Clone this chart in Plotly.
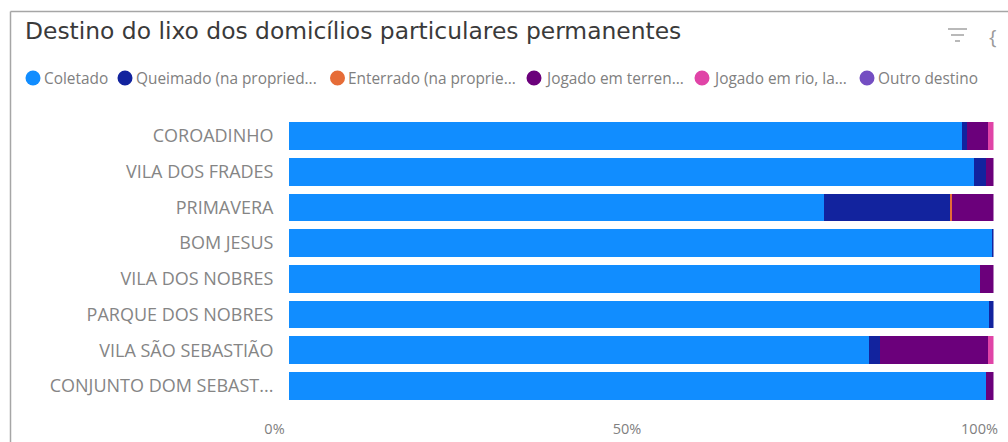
import plotly.graph_objects as go

W, H = 1008, 442
categories = ["COROADINHO", "VILA DOS FRADES", "PRIMAVERA", "BOM JESUS", "VILA DOS NOBRES",
              "PARQUE DOS NOBRES", "VILA SÃO SEBASTIÃO", "CONJUNTO DOM SEBAST..."]
coletado =  [95.5, 97.3, 76.0, 99.75, 98.1, 99.3, 82.3, 99.0]
queimado =  [0.8, 1.7, 17.8, 0.25, 0.0, 0.7, 1.6, 0.0]
enterrado = [0.0, 0.0, 0.35, 0.0, 0.0, 0.0, 0.0, 0.0]
terreno =   [2.9, 1.0, 5.85, 0.0, 1.9, 0.0, 15.3, 1.0]
rio =       [0.8, 0.0, 0.0, 0.0, 0.0, 0.0, 0.8, 0.0]
outro =     [0.0, 0.0, 0.0, 0.0, 0.0, 0.0, 0.0, 0.0]
series_names = ["Coletado", "Queimado (na propriedade)", "Enterrado (na propriedade)",
                "Jogado em terreno baldio", "Jogado em rio, lago ou mar", "Outro destino"]
legend_labels = ["Coletado", "Queimado (na propried...", "Enterrado (na proprie...",
                 "Jogado em terren...", "Jogado em rio, la...", "Outro destino"]
series_values = [coletado, queimado, enterrado, terreno, rio, outro]
colors = ["#118DFF", "#12239E", "#E66C37", "#6B007B", "#E044A7", "#744EC2"]
legend_dot_x = [33, 125, 337.5, 534, 702, 867]
tick_values = [0, 50, 100]
tick_labels = ["0%", "50%", "100%"]

px = lambda x: x / W
py = lambda y: 1 - y / H

fig = go.Figure()
for name, vals, col in zip(series_names, series_values, colors):
    fig.add_trace(go.Bar(y=categories, x=vals, name=name, orientation="h",
                         marker=dict(color=col, line_width=0), showlegend=False))

shapes = [
    dict(type="line", xref="paper", yref="paper", x0=px(10.5), x1=px(W), y0=py(11.5), y1=py(11.5),
         line=dict(color="#A6A6A6", width=1.5)),
    dict(type="line", xref="paper", yref="paper", x0=px(10.5), x1=px(10.5), y0=py(11.5), y1=0,
         line=dict(color="#A6A6A6", width=1.5)),
    dict(type="line", xref="paper", yref="paper", x0=px(948), x1=px(967), y0=py(29), y1=py(29),
         line=dict(color="#8A8A8A", width=1.2)),
    dict(type="line", xref="paper", yref="paper", x0=px(951), x1=px(964), y0=py(35), y1=py(35),
         line=dict(color="#8A8A8A", width=1.2)),
    dict(type="line", xref="paper", yref="paper", x0=px(955), x1=px(960), y0=py(41), y1=py(41),
         line=dict(color="#8A8A8A", width=1.2)),
]
R = 7.5
for cx, col in zip(legend_dot_x, colors):
    shapes.append(dict(type="circle", xref="paper", yref="paper",
                       x0=px(cx - R), x1=px(cx + R), y0=py(78 + R), y1=py(78 - R),
                       fillcolor=col, line_width=0))

annotations = [
    dict(text="Destino do lixo dos domicílios particulares permanentes", xref="paper", yref="paper",
         x=px(23), y=py(31), xanchor="left", yanchor="middle", showarrow=False,
         font=dict(family="DejaVu Sans", size=23.4, color="#3A3A3A")),
    dict(text="{", xref="paper", yref="paper", x=px(993), y=py(36), xanchor="center", yanchor="middle",
         showarrow=False, font=dict(family="Open Sans", size=20, color="#9A9A9A")),
]
for cx, lab in zip(legend_dot_x, legend_labels):
    annotations.append(dict(text=lab, xref="paper", yref="paper", x=px(cx + 8.5), y=py(78),
                            xanchor="left", yanchor="middle", showarrow=False,
                            font=dict(family="Open Sans", size=15.4, color="#808080")))

fig.update_layout(
    width=W, height=H, barmode="stack", bargap=0.22, showlegend=False,
    margin=dict(l=0, r=0, t=0, b=0, autoexpand=False), paper_bgcolor="white", plot_bgcolor="white",
    shapes=shapes, annotations=annotations,
    xaxis=dict(domain=[px(288.5), px(993.5)], range=[0, 100], tickvals=tick_values, ticktext=tick_labels,
               showgrid=False, zeroline=False, showline=False, ticks="", ticklabelshift=-14,
               tickfont=dict(family="Open Sans", size=14.5, color="#808080"), anchor="free",
               position=py(418)),
    yaxis=dict(domain=[py(403.8), py(118.2)], categoryorder="array", categoryarray=categories[::-1],
               autorange=False, range=[-0.5, 7.5], showgrid=False, zeroline=False, showline=False,
               ticks="", ticksuffix="   ",
               tickfont=dict(family="Open Sans", size=18, color="#858585")),
)
fig.write_html("out.html", config={"displayModeBar": False},
               post_script="document.body.style.margin='0';document.body.style.overflow='hidden';")
